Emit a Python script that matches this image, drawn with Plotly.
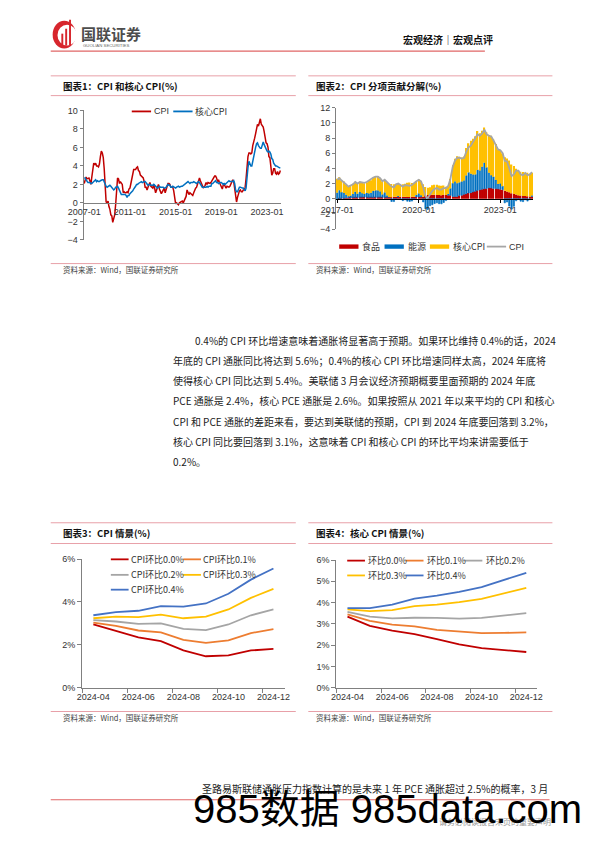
import plotly.graph_objects as go
import pandas as pd

W, H = 596, 842
def fx(x): return x / W
def fy(y): return 1 - y / H

# ---------------- data ----------------
# Chart 1: US CPI and core CPI YoY (%), monthly 2007-01 .. 2024-03
c1_months = pd.date_range("2007-01-01", "2024-03-01", freq="MS")
cpi_yoy = [
    2.1, 2.4, 2.8, 2.6, 2.7, 2.7, 2.4, 2.0, 2.8, 3.5, 4.3, 4.1,
    4.3, 4.0, 4.0, 3.9, 4.2, 5.0, 5.6, 5.4, 4.9, 3.7, 1.1, 0.1,
    0.0, 0.2, -0.4, -0.7, -1.3, -1.4, -2.1, -1.5, -1.3, -0.2, 1.8, 2.7,
    2.6, 2.1, 2.3, 2.2, 2.0, 1.1, 1.2, 1.1, 1.1, 1.2, 1.1, 1.5,
    1.6, 2.1, 2.7, 3.2, 3.6, 3.6, 3.6, 3.8, 3.9, 3.5, 3.4, 3.0,
    2.9, 2.9, 2.7, 2.3, 1.7, 1.7, 1.4, 1.7, 2.0, 2.2, 1.8, 1.7,
    1.6, 2.0, 1.5, 1.1, 1.4, 1.8, 2.0, 1.5, 1.2, 1.0, 1.2, 1.5,
    1.6, 1.1, 1.5, 2.0, 2.1, 2.1, 2.0, 1.7, 1.7, 1.7, 1.3, 0.8,
    -0.1, 0.0, -0.1, -0.2, 0.0, 0.1, 0.2, 0.2, 0.0, 0.2, 0.5, 0.7,
    1.4, 1.0, 0.9, 1.1, 1.0, 1.0, 0.8, 1.1, 1.5, 1.6, 1.7, 2.1,
    2.5, 2.7, 2.4, 2.2, 1.9, 1.6, 1.7, 1.9, 2.2, 2.0, 2.2, 2.1,
    2.1, 2.2, 2.4, 2.5, 2.8, 2.9, 2.9, 2.7, 2.3, 2.5, 2.2, 1.9,
    1.6, 1.5, 1.9, 2.0, 1.8, 1.6, 1.8, 1.7, 1.7, 1.8, 2.1, 2.3,
    2.5, 2.3, 1.5, 0.3, 0.1, 0.6, 1.0, 1.3, 1.4, 1.2, 1.2, 1.4,
    1.4, 1.7, 2.6, 4.2, 5.0, 5.4, 5.4, 5.3, 5.4, 6.2, 6.8, 7.0,
    7.5, 7.9, 8.5, 8.3, 8.6, 9.1, 8.5, 8.3, 8.2, 7.7, 7.1, 6.5,
    6.4, 6.0, 5.0, 4.9, 4.0, 3.0, 3.2, 3.7, 3.7, 3.2, 3.1, 3.4,
    3.1, 3.2, 3.5,
]
core_yoy = [
    2.7, 2.7, 2.5, 2.3, 2.2, 2.2, 2.2, 2.1, 2.1, 2.2, 2.3, 2.4,
    2.5, 2.3, 2.4, 2.3, 2.3, 2.4, 2.5, 2.5, 2.5, 2.2, 2.0, 1.8,
    1.7, 1.8, 1.8, 1.9, 1.8, 1.7, 1.5, 1.4, 1.5, 1.7, 1.7, 1.8,
    1.6, 1.3, 1.1, 0.9, 0.9, 0.9, 0.9, 0.9, 0.8, 0.6, 0.8, 0.8,
    1.0, 1.1, 1.2, 1.3, 1.5, 1.6, 1.8, 2.0, 2.0, 2.1, 2.2, 2.2,
    2.3, 2.2, 2.3, 2.3, 2.3, 2.2, 2.1, 1.9, 2.0, 2.0, 1.9, 1.9,
    1.9, 2.0, 1.9, 1.7, 1.7, 1.6, 1.7, 1.8, 1.7, 1.7, 1.7, 1.7,
    1.6, 1.6, 1.7, 1.8, 2.0, 1.9, 1.9, 1.7, 1.7, 1.8, 1.7, 1.6,
    1.6, 1.7, 1.8, 1.8, 1.7, 1.8, 1.8, 1.8, 1.9, 1.9, 2.0, 2.1,
    2.2, 2.3, 2.2, 2.1, 2.2, 2.2, 2.2, 2.3, 2.2, 2.1, 2.1, 2.2,
    2.3, 2.2, 2.0, 1.9, 1.7, 1.7, 1.7, 1.7, 1.7, 1.8, 1.7, 1.8,
    1.8, 1.8, 2.1, 2.1, 2.2, 2.3, 2.4, 2.2, 2.2, 2.1, 2.2, 2.2,
    2.2, 2.1, 2.0, 2.1, 2.0, 2.1, 2.2, 2.4, 2.4, 2.3, 2.3, 2.3,
    2.3, 2.4, 2.1, 1.4, 1.2, 1.2, 1.6, 1.7, 1.7, 1.6, 1.6, 1.6,
    1.4, 1.3, 1.6, 3.0, 3.8, 4.5, 4.3, 4.0, 4.0, 4.6, 4.9, 5.5,
    6.0, 6.4, 6.5, 6.2, 6.0, 5.9, 5.9, 6.3, 6.6, 6.3, 6.0, 5.7,
    5.6, 5.5, 5.6, 5.5, 5.3, 4.8, 4.7, 4.3, 4.1, 4.0, 4.0, 3.9,
    3.9, 3.8, 3.8,
]

# Chart 2: CPI contribution decomposition (pp), monthly 2017-01 .. 2024-03
c2_months = pd.date_range("2017-01-01", "2024-03-01", freq="MS")
food_contrib = [
    0.00, -0.03, 0.06, 0.06, 0.11, 0.11, 0.14, 0.14, 0.15, 0.16, 0.18, 0.20,
    0.21, 0.18, 0.16, 0.18, 0.15, 0.18, 0.18, 0.18, 0.18, 0.15, 0.18, 0.20,
    0.20, 0.25, 0.26, 0.23, 0.25, 0.24, 0.24, 0.21, 0.23, 0.26, 0.25, 0.23,
    0.23, 0.23, 0.24, 0.44, 0.50, 0.56, 0.51, 0.51, 0.49, 0.49, 0.46, 0.49,
    0.48, 0.45, 0.44, 0.30, 0.28, 0.30, 0.43, 0.46, 0.58, 0.66, 0.76, 0.79,
    0.88, 0.99, 1.10, 1.18, 1.26, 1.30, 1.36, 1.43, 1.40, 1.36, 1.33, 1.30,
    1.26, 1.19, 1.06, 0.96, 0.84, 0.71, 0.61, 0.54, 0.46, 0.41, 0.36, 0.34,
    0.33, 0.28, 0.28,
]
energy_contrib = [
    0.80, 1.10, 0.80, 0.70, 0.42, 0.20, 0.26, 0.48, 0.75, 0.48, 0.70, 0.52,
    0.42, 0.58, 0.53, 0.60, 0.88, 0.90, 0.91, 0.77, 0.37, 0.67, 0.24, 0.02,
    -0.37, -0.38, -0.03, 0.13, -0.05, -0.26, -0.15, -0.33, -0.36, -0.32, -0.05, 0.26,
    0.47, 0.21, -0.43, -1.33, -1.42, -0.92, -0.80, -0.64, -0.55, -0.66, -0.68, -0.50,
    -0.25, 0.17, 0.92, 1.75, 2.00, 1.75, 1.72, 1.80, 1.82, 2.40, 2.70, 2.50,
    2.30, 2.20, 2.70, 2.55, 2.95, 3.45, 2.75, 2.00, 1.68, 1.52, 1.14, 0.64,
    0.75, 0.45, -0.55, -0.44, -0.98, -1.38, -1.00, -0.28, -0.04, -0.33, -0.39, -0.14,
    -0.32, -0.13, 0.15,
]
core_contrib = [
    1.82, 1.74, 1.58, 1.50, 1.34, 1.34, 1.34, 1.34, 1.34, 1.42, 1.34, 1.42,
    1.42, 1.42, 1.66, 1.66, 1.74, 1.82, 1.90, 1.74, 1.74, 1.66, 1.74, 1.74,
    1.74, 1.66, 1.58, 1.66, 1.58, 1.66, 1.74, 1.90, 1.90, 1.82, 1.82, 1.82,
    1.82, 1.90, 1.66, 1.11, 0.95, 0.95, 1.26, 1.34, 1.34, 1.26, 1.26, 1.26,
    1.11, 1.03, 1.26, 2.37, 3.00, 3.56, 3.40, 3.16, 3.16, 3.63, 3.87, 4.35,
    4.74, 5.06, 5.14, 4.90, 4.74, 4.66, 4.66, 4.98, 5.21, 4.98, 4.74, 4.50,
    4.42, 4.35, 4.42, 4.35, 4.19, 3.79, 3.71, 3.40, 3.24, 3.16, 3.16, 3.08,
    3.08, 3.00, 3.00,
]
cpi_line2 = cpi_yoy[120:]

# Charts 3 & 4: scenarios 2024-04 .. 2024-12
scen_months = ["2024-04", "2024-05", "2024-06", "2024-07", "2024-08",
               "2024-09", "2024-10", "2024-11", "2024-12"]
cpi_scen_names = ["CPI环比0.0%", "CPI环比0.1%", "CPI环比0.2%", "CPI环比0.3%", "CPI环比0.4%"]
cpi_scen = [
    [2.96, 2.66, 2.35, 2.17, 1.74, 1.47, 1.51, 1.74, 1.81],
    [3.04, 2.89, 2.67, 2.58, 2.23, 2.09, 2.21, 2.55, 2.73],
    [3.15, 3.09, 2.98, 3.00, 2.75, 2.69, 2.95, 3.38, 3.65],
    [3.24, 3.32, 3.29, 3.41, 3.24, 3.32, 3.65, 4.19, 4.61],
    [3.38, 3.53, 3.59, 3.81, 3.78, 3.93, 4.38, 5.04, 5.56],
]
core_scen_names = ["环比0.0%", "环比0.1%", "环比0.2%", "环比0.3%", "环比0.4%"]
core_scen = [
    [3.34, 2.91, 2.68, 2.52, 2.29, 2.04, 1.86, 1.78, 1.68],
    [3.45, 3.14, 2.97, 2.88, 2.72, 2.63, 2.57, 2.58, 2.60],
    [3.56, 3.34, 3.26, 3.29, 3.28, 3.25, 3.28, 3.40, 3.51],
    [3.68, 3.60, 3.65, 3.84, 3.91, 4.02, 4.18, 4.45, 4.69],
    [3.74, 3.74, 3.91, 4.19, 4.33, 4.50, 4.73, 5.07, 5.40],
]
scen_colors = ["#C00000", "#ED7D31", "#A5A5A5", "#FFC000", "#4472C4"]

# ---------------- figure ----------------
CJK = "Noto Sans CJK SC"
NUM = "Liberation Sans, Arial, sans-serif"
AX = "#808080"
TXT = "#333333"

fig = go.Figure()

# chart 1
fig.add_trace(go.Scatter(x=c1_months, y=cpi_yoy, mode="lines", name="CPI",
                         line=dict(color="#C00000", width=1.5), xaxis="x", yaxis="y"))
fig.add_trace(go.Scatter(x=c1_months, y=core_yoy, mode="lines", name="核心CPI",
                         line=dict(color="#0070C0", width=1.5), xaxis="x", yaxis="y"))
# chart 2
fig.add_trace(go.Bar(x=c2_months, y=food_contrib, name="食品", marker=dict(color="#C00000", line=dict(width=0)),
                     xaxis="x2", yaxis="y2"))
fig.add_trace(go.Bar(x=c2_months, y=energy_contrib, name="能源",
                     marker=dict(color="#0070C0", line=dict(color="#0070C0", width=0.6)),
                     xaxis="x2", yaxis="y2"))
fig.add_trace(go.Bar(x=c2_months, y=core_contrib, name="核心CPI", marker=dict(color="#FFC000", line=dict(width=0)),
                     xaxis="x2", yaxis="y2"))
fig.add_trace(go.Scatter(x=c2_months, y=cpi_line2, mode="lines", name="CPI",
                         line=dict(color="#A6A6A6", width=1.8), xaxis="x2", yaxis="y2"))
# chart 3
for nm, vals, col in zip(cpi_scen_names, cpi_scen, scen_colors):
    fig.add_trace(go.Scatter(x=scen_months, y=vals, mode="lines", name=nm,
                             line=dict(color=col, width=1.8), xaxis="x3", yaxis="y3"))
# chart 4
for nm, vals, col in zip(core_scen_names, core_scen, scen_colors):
    fig.add_trace(go.Scatter(x=scen_months, y=vals, mode="lines", name=nm,
                             line=dict(color=col, width=1.8), xaxis="x4", yaxis="y4"))

tickfont = dict(family=NUM, size=9, color=TXT)

layout = dict(
    width=W, height=H, margin=dict(l=0, r=0, t=0, b=0),
    paper_bgcolor="white", plot_bgcolor="rgba(0,0,0,0)",
    showlegend=False, barmode="relative", bargap=0.35,
    font=dict(family=CJK, color=TXT),
    # chart 1
    xaxis=dict(domain=[fx(70), fx(275)], anchor="free", position=fy(200.3), type="date",
               range=["2006-12-10", "2024-04-01"], tick0="2007-01-01", dtick="M48",
               tickformat="%Y-%m", showgrid=False, zeroline=False, showline=True,
               linecolor=AX, linewidth=1, ticks="", tickfont=tickfont, tickangle=0),
    yaxis=dict(domain=[fy(237.7), fy(106.7)], anchor="x", range=[-4, 10], dtick=2,
               showgrid=False, zeroline=False, showline=True, linecolor=AX, linewidth=1,
               ticks="outside", ticklen=3, tickcolor=AX, tickfont=tickfont),
    # chart 2
    xaxis2=dict(domain=[fx(331.7), fx(536)], anchor="free", position=fy(196), type="date",
                range=["2016-12-16", "2024-03-16"], tick0="2017-01-01", dtick="M36",
                tickformat="%Y-%m", showgrid=False, zeroline=False, showline=True,
                linecolor="#000000", linewidth=1, ticks="outside", ticklen=3, tickcolor="#000000",
                tickfont=tickfont, tickangle=0),
    yaxis2=dict(domain=[fy(226.7), fy(104)], anchor="x2", range=[-4, 12], dtick=2,
                showgrid=False, zeroline=False, showline=True, linecolor=AX, linewidth=1,
                ticks="outside", ticklen=3, tickcolor=AX, tickfont=tickfont),
    # chart 3
    xaxis3=dict(domain=[fx(68.5), fx(278.5)], anchor="y3", type="category",
                range=[-0.5, 8.5], dtick=2, tickson="boundaries", ticks="outside", ticklen=4,
                tickcolor=AX, showgrid=False, showline=True, linecolor=AX, linewidth=1,
                tickfont=tickfont, tickangle=0),
    yaxis3=dict(domain=[fy(691), fy(560.7)], anchor="x3", range=[0, 6], dtick=2,
                ticksuffix="%", showgrid=False, zeroline=False, showline=True, linecolor=AX,
                linewidth=1, ticks="outside", ticklen=4, tickcolor=AX, tickfont=tickfont),
    # chart 4
    xaxis4=dict(domain=[fx(332), fx(540.5)], anchor="y4", type="category",
                range=[-0.5, 8.5], dtick=2, tickson="boundaries", ticks="outside", ticklen=4,
                tickcolor=AX, showgrid=False, showline=True, linecolor=AX, linewidth=1,
                tickfont=tickfont, tickangle=0),
    yaxis4=dict(domain=[fy(691), fy(561.7)], anchor="x4", range=[0, 6], dtick=1,
                ticksuffix="%", showgrid=False, zeroline=False, showline=True, linecolor=AX,
                linewidth=1, ticks="outside", ticklen=4, tickcolor=AX, tickfont=tickfont),
)
fig.update_layout(**layout)

shapes = []
ann = []

def hline(x0, x1, y, color, width=1):
    shapes.append(dict(type="line", xref="paper", yref="paper", x0=fx(x0), x1=fx(x1),
                       y0=fy(y), y1=fy(y), line=dict(color=color, width=width)))

def rect(x0, x1, y0, y1, color):
    shapes.append(dict(type="rect", xref="paper", yref="paper", x0=fx(x0), x1=fx(x1),
                       y0=fy(y1), y1=fy(y0), fillcolor=color, line=dict(width=0)))

def text(x, y, s, size=9, color=TXT, family=CJK, anchor="left", bold=False):
    if bold:
        s = "<b>" + s + "</b>"
    ann.append(dict(x=fx(x), y=fy(y), xref="paper", yref="paper", text=s, showarrow=False,
                    xanchor=anchor, yanchor="middle", font=dict(size=size, color=color, family=family),
                    borderpad=0))

# ---- header ----
shapes.append(dict(type="circle", xref="paper", yref="paper", x0=fx(38), x1=fx(62),
                   y0=fy(44), y1=fy(16), fillcolor="#D7262D", line=dict(width=0)))
shapes.append(dict(type="circle", xref="paper", yref="paper", x0=fx(43), x1=fx(63),
                   y0=fy(41), y1=fy(20), fillcolor="white", line=dict(width=0)))
rect(47, 49, 29, 41, "#D7262D")
rect(51, 53, 24, 41, "#D7262D")
rect(55, 57, 15, 41, "#D7262D")
text(66, 28.5, "国联证券", size=15, color="#4D4D4D", bold=True)
text(68, 40.5, "GUOLIAN SECURITIES", size=4.3, color="#666666", family=NUM)
text(400, 35, "宏观经济｜宏观点评", size=10, color="#111111", bold=True)
hline(36, 486, 46.7, "#E06666", 1.2)

PINK = "#E8A0A8"
# ---- chart 1 frame ----
hline(36, 290, 71.7, PINK)
hline(36, 290, 91.7, PINK)
hline(36, 290, 261.7, PINK)
text(48, 81.7, "图表1：CPI 和核心 CPI(%)", size=9.5, color="#111111", bold=True)
text(48, 267.5, "资料来源：Wind，国联证券研究所", size=7.5, color="#444444")
hline(120, 140, 107.7, "#C00000", 1.8)
text(141.5, 107.7, "CPI", size=9, family=NUM)
hline(163, 183, 107.7, "#0070C0", 1.8)
text(185, 107.7, "核心CPI", size=9)

# ---- chart 2 frame ----
hline(303, 556, 71.7, PINK)
hline(303, 556, 91.7, PINK)
hline(303, 556, 261.7, PINK)
text(310, 81.7, "图表2：CPI 分项贡献分解(%)", size=9.5, color="#111111", bold=True)
text(310, 267.5, "资料来源：Wind，国联证券研究所", size=7.5, color="#444444")
rect(335, 355, 242.3, 246.7, "#C00000")
text(358, 244.5, "食品", size=9)
rect(382, 402, 242.3, 246.7, "#0070C0")
text(405, 244.5, "能源", size=9)
rect(429, 449, 242.3, 246.7, "#FFC000")
text(452, 244.5, "核心CPI", size=9)
hline(488, 508, 244.5, "#A6A6A6", 1.8)
text(510, 244.5, "CPI", size=9, family=NUM)

# ---- paragraph ----
para = [
    (185, "0.4%的 CPI 环比增速意味着通胀将显著高于预期。如果环比维持 0.4%的话，2024"),
    (162, "年底的 CPI 通胀同比将达到 5.6%；0.4%的核心 CPI 环比增速同样太高，2024 年底将"),
    (162, "使得核心 CPI 同比达到 5.4%。美联储 3 月会议经济预期概要里面预期的 2024 年底"),
    (162, "PCE 通胀是 2.4%，核心 PCE 通胀是 2.6%。如果按照从 2021 年以来平均的 CPI 和核心"),
    (162, "CPI 和 PCE 通胀的差距来看，要达到美联储的预期，CPI 到 2024 年底要回落到 3.2%，"),
    (162, "核心 CPI 同比要回落到 3.1%，这意味着 CPI 和核心 CPI 的环比平均来讲需要低于"),
    (162, "0.2%。"),
]
for i, (x0, s) in enumerate(para):
    text(x0, 339.5 + i * 20.4, s, size=10, color="#222222")

# ---- chart 3 frame ----
hline(36, 290, 524, PINK)
hline(36, 290, 545, PINK)
hline(36, 290, 715, PINK)
text(48, 534.5, "图表3：CPI 情景(%)", size=9.5, color="#111111", bold=True)
text(48, 721, "资料来源：Wind，国联证券研究所", size=7.5, color="#444444")
leg3 = [(98.3, 561), (173.3, 561), (98.3, 576.7), (173.3, 576.7), (98.3, 591.7)]
for (lx, ly), nm, col in zip(leg3, cpi_scen_names, scen_colors):
    hline(lx, lx + 18.4, ly, col, 1.8)
    text(lx + 20, ly, nm, size=9)

# ---- chart 4 frame ----
hline(303, 556, 524, PINK)
hline(303, 556, 545, PINK)
hline(303, 556, 715, PINK)
text(310, 534.5, "图表4：核心 CPI 情景(%)", size=9.5, color="#111111", bold=True)
text(310, 721, "资料来源：Wind，国联证券研究所", size=7.5, color="#444444")
leg4 = [(343.3, 562.3), (404, 562.3), (465, 562.3), (343.3, 577.3), (404, 577.3)]
for (lx, ly), nm, col in zip(leg4, core_scen_names, scen_colors):
    hline(lx, lx + 18.4, ly, col, 1.8)
    text(lx + 21, ly, nm, size=9)

# ---- bottom ----
text(192, 792.7, "圣路易斯联储通胀压力指数计算的是未来 1 年 PCE 通胀超过 2.5%的概率，3 月",
     size=10, color="#222222")
hline(36, 553, 804.3, "#E06666", 1.2)
text(265, 824, "4", size=8, color="#666666", family=NUM)
text(437, 826, "请务必阅读报告末页的重要声明", size=8, color="#999999")
text(182, 814, "985数据 985data.com", size=40, color="#000000", family="Liberation Sans, Noto Sans CJK SC")

fig.update_layout(shapes=shapes, annotations=ann)
fig.write_html("out.html", config={"displayModeBar": False},
               post_script="document.body.style.margin='0';document.body.style.overflow='hidden';")
